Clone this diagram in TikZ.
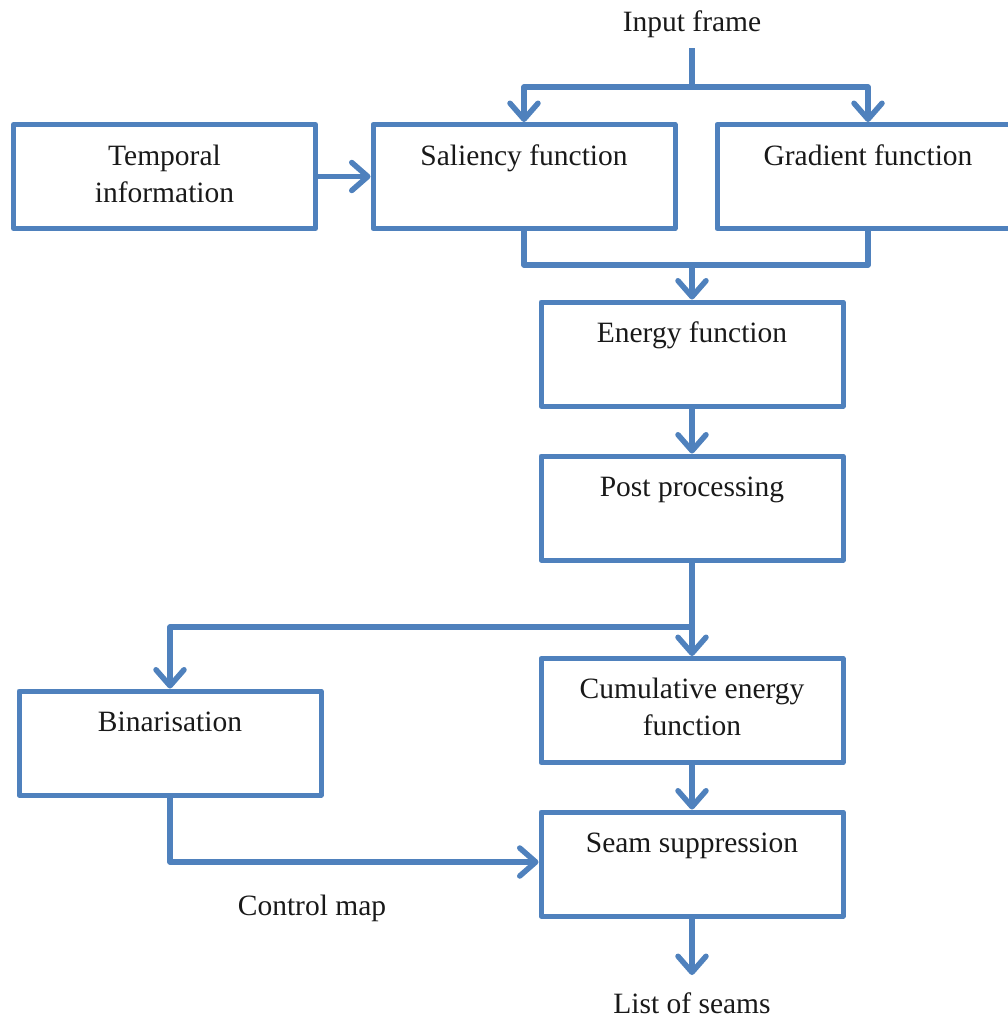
\documentclass[tikz,border=0pt]{standalone}
\usepackage{fontspec}
\setmainfont{Liberation Serif}
\usetikzlibrary{arrows.meta}
\definecolor{flowblue}{HTML}{4F81BD}
\begin{document}
\begin{tikzpicture}[x=1pt,y=-1pt,
  box/.style={draw=flowblue, line width=5pt, line join=round, rectangle,
    inner sep=0pt, minimum width=302pt, minimum height=104pt},
  lbl/.style={font=\fontsize{29.5}{37}\selectfont, text=black!90, inner sep=0pt, align=center},
  link/.style={draw=flowblue, line width=5.5pt, line join=round},
  arr/.style={link, -{Straight Barb[length=16pt,width=28pt,round]}}]
\clip (0,0) rectangle (1008,1021);

% process boxes
\node[box] (tmp)  at (164.5,176.5) {};
\node[box] (sal)  at (524,176.5) {};
\node[box] (grad) at (868,176.5) {};
\node[box] (ene)  at (692,354) {};
\node[box] (post) at (692,508) {};
\node[box] (bin)  at (170,743) {};
\node[box] (cum)  at (692,710.5) {};
\node[box] (seam) at (692,864) {};

% labels
\node[lbl, anchor=base] (tin)   at (692,31) {Input frame};
\node[lbl, anchor=north] (ttmp) at (164.5,145) {Temporal\\information};
\node[lbl, anchor=base] (tsal)  at (524,165) {Saliency function};
\node[lbl, anchor=base] (tgrad) at (868,165) {Gradient function};
\node[lbl, anchor=base] (tene)  at (692,342) {Energy function};
\node[lbl, anchor=base] (tpost) at (692,496) {Post processing};
\node[lbl, anchor=base] (tbin)  at (170,731) {Binarisation};
\node[lbl, anchor=north] (tcum) at (692,678) {Cumulative energy\\function};
\node[lbl, anchor=base] (tseam) at (692,852) {Seam suppression};
\node[lbl, anchor=base] (tctl)  at (312,915) {Control map};
\node[lbl, anchor=base] (tout)  at (692,1013) {List of seams};

% junction points
\coordinate (top)   at (692,48);
\coordinate (split) at (692,87);
\coordinate (merge) at (692,265);
\coordinate (fork)  at (692,627);
\coordinate (bend)  at (170,862);
\coordinate (end)   at (692,975);

% input frame fans out to saliency and gradient
\draw[link] (top) -- (split);
\draw[arr] (split) -| (sal.north);
\draw[arr] (split) -| (grad.north);
% temporal information feeds saliency
\draw[arr] (tmp.east) -- (sal.west);
% saliency and gradient merge into energy
\draw[link] (sal.south) |- (merge);
\draw[link] (grad.south) |- (merge);
\draw[arr] (merge) -- (ene.north);
\draw[arr] (ene.south) -- (post.north);
% post processing forks to binarisation and cumulative energy
\draw[link] (post.south) -- (fork);
\draw[arr] (fork) -| (bin.north);
\draw[arr] (fork) -- (cum.north);
\draw[arr] (cum.south) -- (seam.north);
% control map from binarisation
\draw[arr] (bin.south) -- (bend) -- (bend -| seam.west);
% output
\draw[arr] (seam.south) -- (end);
\end{tikzpicture}
\end{document}
